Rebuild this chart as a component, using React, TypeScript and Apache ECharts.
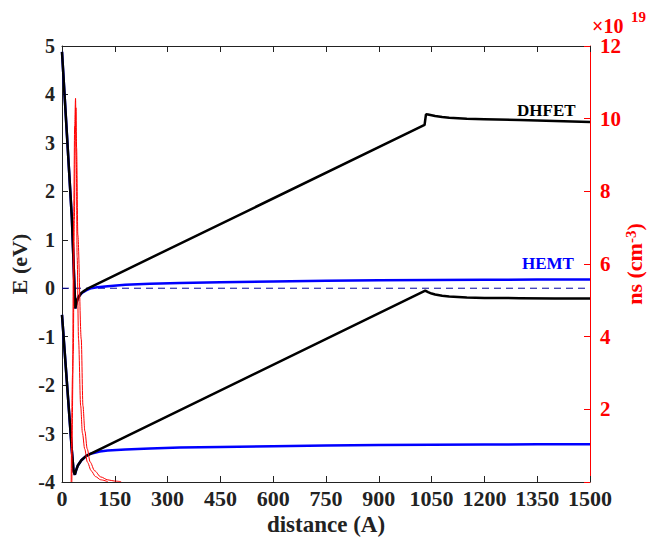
import React, { useEffect, useRef } from "react";
import * as echarts from "echarts";

// ---- data ----
const dhfetEcX = [0, 14, 28, 37.8, 41, 45, 50, 55, 60, 70, 83, 1030, 1034, 1040, 1050, 1060, 1080, 1100, 1150, 1200, 1300, 1400, 1500];
const dhfetEcY = [4.88, 3.17, 1.45, -0.42, -0.3, -0.21, -0.15, -0.1, -0.07, -0.02, 0.03, 3.37, 3.59, 3.585, 3.57, 3.555, 3.535, 3.52, 3.5, 3.49, 3.47, 3.45, 3.43];

const dhfetEvX = [0, 14, 28, 33, 36.5, 40, 45, 55, 69, 1032, 1040, 1050, 1060, 1080, 1100, 1150, 1200, 1300, 1400, 1500];
const dhfetEvY = [-0.55, -1.95, -3.35, -3.78, -3.85, -3.76, -3.66, -3.55, -3.46, -0.05, -0.08, -0.11, -0.13, -0.155, -0.17, -0.19, -0.2, -0.205, -0.21, -0.21];

const hemtEcX = [0, 14, 28, 37.8, 41, 45, 50, 55, 60, 70, 83, 100, 130, 180, 250, 335, 450, 600, 750, 900, 1050, 1200, 1350, 1500];
const hemtEcY = [4.88, 3.17, 1.45, -0.42, -0.3, -0.21, -0.15, -0.11, -0.08, -0.04, 0.0, 0.02, 0.04, 0.07, 0.09, 0.11, 0.125, 0.14, 0.155, 0.165, 0.17, 0.175, 0.178, 0.18];

const hemtEvX = [0, 14, 28, 33, 36.5, 40, 45, 55, 69, 80, 90, 107, 130, 180, 250, 335, 450, 600, 750, 900, 1050, 1200, 1350, 1500];
const hemtEvY = [-0.55, -1.95, -3.35, -3.78, -3.85, -3.76, -3.66, -3.55, -3.46, -3.42, -3.4, -3.37, -3.35, -3.33, -3.31, -3.29, -3.275, -3.26, -3.245, -3.235, -3.23, -3.225, -3.222, -3.22];

// electron density, units of 1e19 cm^-3
const nsAX = [26, 30, 33, 36, 38.5, 40.5, 43, 47, 53, 58, 64.5, 72, 83, 95, 110, 130];
const nsAY = [0, 3, 7.2, 9.8, 10.56, 9.0, 6.2, 3.93, 2.1, 1.35, 0.91, 0.55, 0.31, 0.15, 0.06, 0.01];

const nsBX = [28, 32, 35, 38, 39.5, 41.5, 45, 54.7, 59.5, 65, 71.7, 80, 92.7, 110, 130, 150, 168];
const nsBY = [0, 3.5, 7.2, 9.6, 10.3, 9.2, 6.8, 3.93, 2.1, 1.4, 0.91, 0.55, 0.31, 0.14, 0.06, 0.025, 0.01];

const zeroX = [0, 1500];
const zeroY = [0, 0];

const xTickInterval = 150;
const eMin = -4, eMax = 5, eInterval = 1;
const nsMin = 0, nsMax = 12, nsInterval = 2;

const FONT = "'Liberation Serif', 'Times New Roman', serif";

const zip = (xs: number[], ys: number[]) => xs.map((x, i) => [x, ys[i]]);

export default function App() {
  const ref = useRef<HTMLDivElement>(null);
  useEffect(() => {
    if (!ref.current) return;
    const chart = echarts.init(ref.current, null, { renderer: "svg" });
    const axisTxt = { fontFamily: FONT, fontWeight: "bold" as const, fontSize: 20, color: "#222" };
    chart.setOption({
      animation: false,
      backgroundColor: "#fff",
      grid: { left: 62, right: 61, top: 46, bottom: 57, containLabel: false, outerBoundsMode: "none" },
      xAxis: [
        {
          type: "value", min: 0, max: 1500, interval: xTickInterval, position: "bottom",
          axisLine: { show: true, onZero: false, lineStyle: { color: "#222", width: 1 } },
          axisTick: { show: true, inside: true, length: 6, lineStyle: { color: "#222" } },
          axisLabel: { ...axisTxt, fontSize: 22, lineHeight: 18, margin: 7, formatter: (v: number) => String(v) },
          splitLine: { show: false },
          name: "distance (A)", nameLocation: "middle", nameGap: 32, nameMoveOverlap: false,
          nameTextStyle: { fontFamily: FONT, fontWeight: "bold", fontSize: 23, lineHeight: 20, color: "#222" },
        },
        {
          type: "value", min: 0, max: 1500, interval: xTickInterval, position: "top",
          axisLine: { show: true, onZero: false, lineStyle: { color: "#222", width: 1 } },
          axisTick: { show: true, inside: true, length: 6, lineStyle: { color: "#222" } },
          axisLabel: { show: false },
          splitLine: { show: false },
        },
      ],
      yAxis: [
        {
          type: "value", min: eMin, max: eMax, interval: eInterval, position: "left",
          axisLine: { show: true, onZero: false, lineStyle: { color: "#222", width: 1 } },
          axisTick: { show: true, inside: true, length: 6, lineStyle: { color: "#222" } },
          axisLabel: { ...axisTxt, margin: 7, formatter: (v: number) => String(v) },
          splitLine: { show: false },
          name: "E (eV)", nameLocation: "middle", nameGap: 32, nameRotate: 90, nameMoveOverlap: false,
          nameTextStyle: { fontFamily: FONT, fontWeight: "bold", fontSize: 22, color: "#222" },
        },
        {
          type: "value", min: nsMin, max: nsMax, interval: nsInterval, position: "right",
          axisLine: { show: true, onZero: false, lineStyle: { color: "#f00", width: 1 } },
          axisTick: { show: true, inside: true, length: 6, lineStyle: { color: "#f00" } },
          axisLabel: { ...axisTxt, fontSize: 21, lineHeight: 16, color: "#f00", margin: 10, formatter: (v: number) => (v === 0 ? "" : String(v)) },
          splitLine: { show: false },
          name: "{a|ns (cm}{s|-3}{a|)}", nameLocation: "middle", nameGap: 33, nameRotate: 90, nameMoveOverlap: false,
          nameTextStyle: {
            color: "#f00",
            rich: {
              a: { fontFamily: FONT, fontWeight: "bold", fontSize: 22, color: "#f00" },
              s: { fontFamily: FONT, fontWeight: "bold", fontSize: 15, color: "#f00", verticalAlign: "top" },
            },
          },
        },
      ],
      graphic: [
        { type: "text", left: 592, top: 16, style: { text: "×10", fontFamily: FONT, fontWeight: "bold", fontSize: 20, lineHeight: 15, fill: "#f00" } },
        { type: "text", left: 631, top: 9, style: { text: "19", fontFamily: FONT, fontWeight: "bold", fontSize: 15, lineHeight: 12, fill: "#f00" } },
        { type: "text", left: 517, top: 102, style: { text: "DHFET", fontFamily: FONT, fontWeight: "bold", fontSize: 17, fill: "#000" } },
        { type: "text", left: 522, top: 255, style: { text: "HEMT", fontFamily: FONT, fontWeight: "bold", fontSize: 17, fill: "#00f" } },
      ],
      series: [
        { type: "line", data: zip(zeroX, zeroY), showSymbol: false, symbol: "none", lineStyle: { color: "#0000a0", width: 1, type: [7, 5] }, z: 1 },
        { type: "line", data: zip(hemtEcX, hemtEcY), symbol: "none", lineStyle: { color: "#00f", width: 2.5 }, z: 2 },
        { type: "line", data: zip(hemtEvX, hemtEvY), symbol: "none", lineStyle: { color: "#00f", width: 2.5 }, z: 2 },
        { type: "line", data: zip(dhfetEcX, dhfetEcY), symbol: "none", lineStyle: { color: "#000", width: 2.5 }, z: 3 },
        { type: "line", data: zip(dhfetEvX, dhfetEvY), symbol: "none", lineStyle: { color: "#000", width: 2.5 }, z: 3 },
        { type: "line", yAxisIndex: 1, data: zip(nsAX, nsAY), symbol: "none", smooth: 0.3, smoothMonotone: "x", lineStyle: { color: "#f00", width: 1 }, z: 4 },
        { type: "line", yAxisIndex: 1, data: zip(nsBX, nsBY), symbol: "none", smooth: 0.3, smoothMonotone: "x", lineStyle: { color: "#f00", width: 1 }, z: 4 },
      ],
    });
    return () => chart.dispose();
  }, []);
  return <div ref={ref} style={{ position: "fixed", left: 0, top: 0, width: 651, height: 539, background: "#fff" }} />;
}
